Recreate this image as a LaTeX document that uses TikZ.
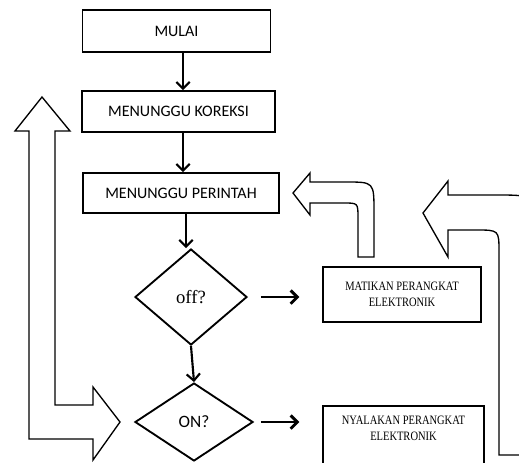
\documentclass[tikz,border=0pt]{standalone}
\usepackage{fontspec}
\setmainfont{Carlito}
\newfontfamily\timesfont{Liberation Serif}
\newfontfamily\narrowfont[FakeStretch=0.82]{Liberation Serif}
\usetikzlibrary{shapes.geometric,arrows.meta}
\begin{document}
\begin{tikzpicture}[x=0.75pt,y=-0.75pt,
    box/.style={draw,line width=1.4pt,inner sep=0pt,font=\fontsize{12}{14}\selectfont},
    outbox/.style={draw,line width=1.4pt,inner sep=0pt,align=center,font=\narrowfont\fontsize{9.6}{12}\selectfont},
    ask/.style={draw,diamond,line width=1.4pt,inner sep=0pt},
    flow/.style={->,>={Straight Barb[length=5pt,width=10pt]},line width=1.6pt},
    bigarrow/.style={line width=1pt,line join=miter}]
  \useasboundingbox (0,0) rectangle (519,462);
  \clip (0,0) rectangle (519,462);
  % main column
  \node (mulai) [box,minimum width=141pt,minimum height=31.5pt] at (176.5,31) {MULAI};
  \node (koreksi) [box,minimum width=145pt,minimum height=30.75pt] at (178.5,111.5) {MENUNGGU KOREKSI};
  \node (perintah) [box,minimum width=147pt,minimum height=30pt] at (181,193) {MENUNGGU PERINTAH};
  \node (off) [ask,minimum width=84pt,minimum height=72pt,font=\timesfont\fontsize{14}{16}\selectfont] at (191,297) {off?};
  \node (on) [ask,minimum width=88.5pt,minimum height=58.5pt,font=\fontsize{13}{15}\selectfont] at (194,422) {ON?};
  % outputs
  \node (matikan) [outbox,minimum width=118.5pt,minimum height=41.25pt] at (402,294.5) {MATIKAN PERANGKAT\\ELEKTRONIK};
  \node (nyalakan) [outbox,minimum width=120.75pt,minimum height=60pt,anchor=north] at (403.5,405) {};
  \node (nyalakantext) [align=center,inner sep=0pt,font=\narrowfont\fontsize{9.6}{12}\selectfont] at (403.5,428) {NYALAKAN PERANGKAT\\ELEKTRONIK};
  % arrows
  \draw [flow] ([xshift=4.9pt]mulai.south) -- ([xshift=4.9pt]mulai.south |- koreksi.north);
  \draw [flow] ([xshift=3.4pt]koreksi.south) -- ([xshift=3.4pt]koreksi.south |- perintah.north);
  \draw [flow] ([xshift=3.75pt]perintah.south) -- ([xshift=3.75pt]perintah.south |- off.north);
  \draw [flow] (off.south) -- (on.north);
  \draw [flow,line width=2.2pt,shorten <=9.75pt,shorten >=17pt] (off.east) -- (off.east -| matikan.west);
  \draw [flow,line width=2.2pt,shorten <=5.25pt,shorten >=17pt] (on.east) -- (on.east -| nyalakan.west);
  % block arrows
  \draw [bigarrow] (29,439) -- (29,131) -- (15,131) -- (42,97) -- (70,131) -- (55,131)
    -- (55,405) -- (93,405) -- (93,387) -- (120,422) -- (93,460) -- (93,439) -- cycle;
  \draw [bigarrow] (358,257) -- (358,218) .. controls (358,203) .. (344,203) -- (310,203)
    -- (310,215) -- (293,193) -- (310,173) -- (310,182) -- (346,182)
    .. controls (374,182) .. (374,212) -- (374,257) -- cycle;
  \draw [bigarrow] (499,455) -- (499,252) .. controls (499,230) .. (476,230) -- (448,230)
    -- (448,257) -- (423,213) -- (448,181) -- (448,195) -- (496,195)
    .. controls (540,195) .. (540,250) -- (540,455) -- cycle;
\end{tikzpicture}
\end{document}
